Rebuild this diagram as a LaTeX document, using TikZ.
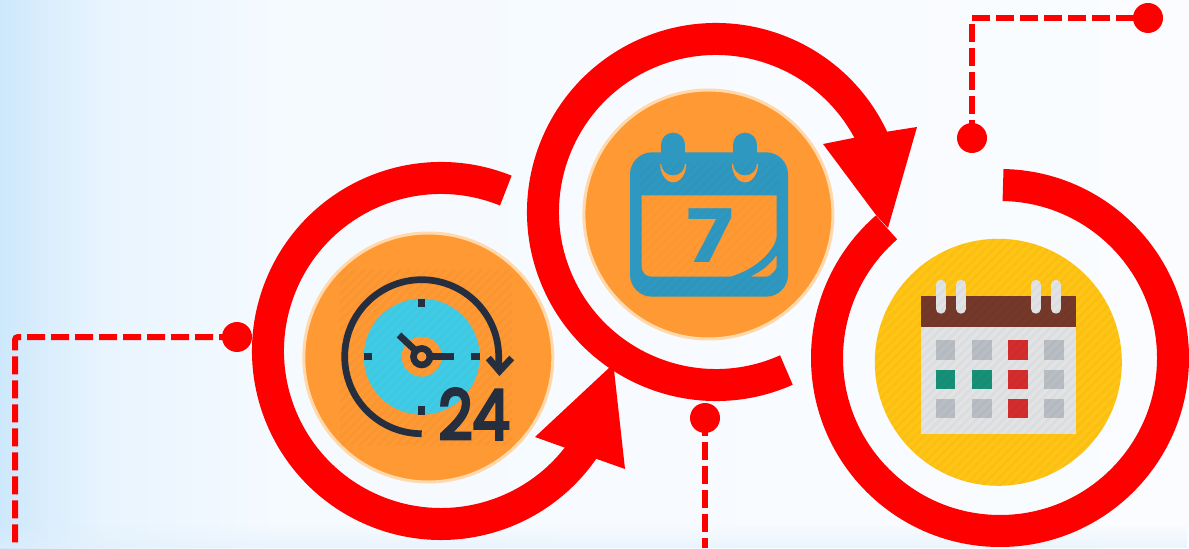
\documentclass[tikz,border=0pt]{standalone}
\usepackage{fontspec}
\newfontfamily\digitfont{Poppins}
\newfontfamily\hourfont[RawFeature={embolden=5}]{Poppins}
\usetikzlibrary{calc,fadings}
\definecolor{bgLeft}{HTML}{CDE8FC}
\definecolor{bgSoft}{HTML}{E8F4FE}
\definecolor{bgMid}{HTML}{F5FAFF}
\definecolor{bgRight}{HTML}{FAFCFF}
\definecolor{bgLow}{HTML}{E2F0FB}
\definecolor{ringRed}{HTML}{FF0000}
\definecolor{faceOr}{HTML}{FF9933}
\definecolor{faceRim}{HTML}{FFD9AC}
\definecolor{faceYe}{HTML}{FFC414}
\definecolor{clockInk}{HTML}{262F40}
\definecolor{clockCy}{HTML}{40CCE6}
\definecolor{calBlue}{HTML}{2F98C0}
\definecolor{calBrown}{HTML}{75392A}
\definecolor{calGrey}{HTML}{E1E3E5}
\definecolor{cellGrey}{HTML}{B8BEC4}
\definecolor{cellTeal}{HTML}{179078}
\definecolor{cellRed}{HTML}{D42D2F}
\def\px{0.02cm}

\begin{document}
\begin{tikzpicture}[
  x=\px, y=\px,
  face/.style={circle, inner sep=0pt, minimum size=249*\px, fill=faceOr, draw=faceRim, line width=3*\px},
  ring/.style={draw=ringRed, line width=32*\px},
  dot/.style={circle, inner sep=0pt, minimum size=30*\px, fill=ringRed},
  link/.style={draw=ringRed, line width=6*\px, dash pattern=on 18*\px off 6*\px},
  ink/.style={draw=clockInk, line width=6.7*\px},
  hatch/.style={draw=black, opacity=0.025, line width=3*\px},
]
\useasboundingbox (0,0) rectangle (1189,548);

% =========================== BACKGROUND ===========================
\shade[left color=bgLeft, right color=bgSoft] (0,0) rectangle (101,548);
\shade[left color=bgSoft, right color=bgMid] (100,0) rectangle (281,548);
\shade[left color=bgMid, right color=bgRight] (280,0) rectangle (1189,548);
\fill[bgLow, opacity=0.6, path fading=north] (0,0) rectangle (1189,24);

% =========================== RINGS AND ARROW HEADS ===========================
\coordinate (ringA) at (441,197);
\coordinate (ringB) at (716,336);
\coordinate (ringC) at (1000,190);

\draw[ring] ($(ringA)+(68:173)$) arc[start angle=68, end angle=325.5, radius=173];
\draw[ring] ($(ringB)+(-66:173)$) arc[start angle=-66, end angle=-335.5, radius=173];
\draw[ring] ($(ringC)+(89:173)$) arc[start angle=89, end angle=-229, radius=173];

\fill[ringRed] (535,111) -- (610,181) -- (614,178) -- (625,79) -- (594,90) -- (563,101) -- cycle;
\fill[ringRed] (823,404) -- (853,410) -- (885,416) -- (917,421) -- (888,320) -- (876,333) -- cycle;

% =========================== DASHED LINKS ===========================
\node[dot] (dotA) at (237,211){};
\node[dot] (dotB) at (705,130){};
\node[dot] (dotC) at (972,410){};
\node[dot] (dotD) at (1148,530){};
\coordinate (endA) at (15,0);
\coordinate (endB) at (705,0);

\draw[link, rounded corners=3*\px] (dotA.center) -| (endA);
\draw[link] (dotB.center) -- (endB);
\draw[link, dash phase=10*\px] (dotD.center) -| (dotC.center);

% =========================== CLOCK ===========================
\node[face] (clockFace) at (428.3,190.5){};
\coordinate (clk) at (421.7,191.3);
\fill[clockCy] (clk) circle (58);
\fill[faceOr] (clk) circle (20);
\draw[ink] ($(clk)+(0,-77)$) arc[start angle=270, end angle=0, radius=77] -- (498.7,177);
\draw[ink] (488.3,190) -- (499.5,177) -- (511.7,190);
\foreach \a in {0,90,180,270}
  \draw[ink] ($(clk)+(\a:49.5)$) -- ($(clk)+(\a:58)$);
\draw[ink] ($(clk)+(8.2,0)$) -- (454,191.3);
\draw[ink] ($(clk)+(135:8.2)$) -- (399,213);
\draw[ink] (clk) circle (8.2);
\node[font=\hourfont\fontsize{39}{39}\selectfont, text=clockInk, inner sep=0pt, xscale=0.86] (clockNum)
  at (474,134){24};

\begin{scope}
  \clip (340,103) rectangle (512,278);
  \foreach \s in {50,59,...,420}
    \draw[hatch, opacity=0.02] (\s,0) -- ++(300,300);
\end{scope}

% =========================== WEEK CALENDAR ===========================
\node[face] (weekFace) at (708.4,333.5){};
\fill[calBlue, rounded corners=22*\px] (630,251.3) rectangle (788,395.7);
\fill[faceOr] (776.7,352.7) -- (776.7,311.3)
  .. controls (773.3,294.7) and (753.3,278) .. (730,271.3)
  [rounded corners=10*\px] -- (641.7,271.3) [sharp corners] -- (641.7,352.7) -- cycle;
\fill[faceOr, rounded corners=2*\px] (776.7,293) .. controls (768.3,281.3) and (760,276.3) .. (750.7,271.3)
  -- (768.3,271.3) -- (776.7,279.7) -- cycle;
\foreach \xx in {673.2,745}{
  \fill[faceOr] (\xx-13,384) arc[start angle=180, end angle=360, x radius=13, y radius=18.3];
  \draw[calBlue, line width=24.3*\px, line cap=round] (\xx,403.2) -- (\xx,384.8);}
\node[font=\digitfont\bfseries\fontsize{42}{42}\selectfont, text=calBlue, inner sep=0pt, xscale=1.2] (weekNum)
  at (710,312.3){7};

\begin{scope}
  \clip (640,250) rectangle (780,385);
  \foreach \s in {250,259,...,540}
    \draw[hatch, opacity=0.012] (\s,0) -- ++(420,420);
\end{scope}

% =========================== MONTH CALENDAR ===========================
\node[circle, inner sep=0pt, minimum size=247*\px, fill=faceYe] (monthFace) at (998.3,185.7){};
\fill[calGrey] (921,114) rectangle (1075.7,221.3);
\fill[calBrown] (921,221.3) rectangle (1075.7,252.3);
\foreach \xx in {940.7,961,1035.7,1056}
  \draw[calGrey, line width=10*\px, line cap=round] (\xx,263.3) -- (\xx,239.3);
\foreach \c/\xx in {1/935.7,2/972,3/1008,4/1044}{
  \foreach \r/\yy in {1/207.7,2/178.3,3/149.3}{
    \def\cb{cellGrey}
    \ifnum\c=3 \def\cb{cellRed}\fi
    \ifnum\r=2 \ifnum\c<3 \def\cb{cellTeal}\fi\fi
    \fill[\cb] (\xx,\yy) rectangle ++(19.5,-19.5);}}

\begin{scope}
  \clip (monthFace.center) circle (123.5);
  \foreach \s in {560,569,...,1065}
    \draw[hatch] (\s,0) -- ++(320,320);
\end{scope}

\end{tikzpicture}
\end{document}
